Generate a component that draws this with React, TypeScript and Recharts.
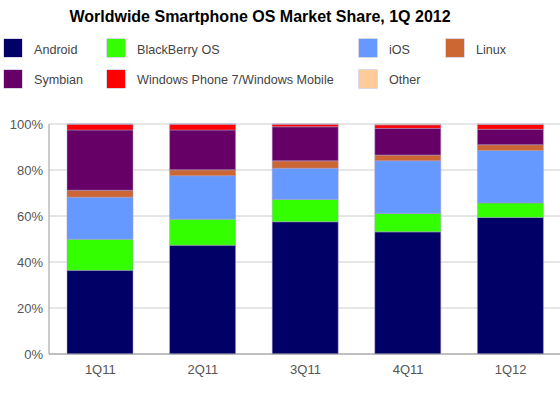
import React from "react";
import { BarChart, Bar, XAxis, YAxis, CartesianGrid } from "recharts";

// quarters on the x axis
const quarters = ["1Q11", "2Q11", "3Q11", "4Q11", "1Q12"];

// market share (%) per OS
const android = [36.4, 47.3, 57.5, 53.1, 59.4];
const blackberry = [13.5, 11.3, 9.7, 8.0, 6.3];
const ios = [18.3, 18.9, 13.6, 22.9, 22.8];
const linux = [3.0, 2.6, 3.2, 2.5, 2.5];
const symbian = [26.2, 17.3, 14.8, 11.6, 6.7];
const windows = [2.5, 2.5, 1.1, 1.5, 2.1];
const other = [0.1, 0.1, 0.1, 0.4, 0.2];

const yTicks = [0, 20, 40, 60, 80, 100];

const series = [
  { key: "android", name: "Android", color: "#000066", values: android },
  { key: "blackberry", name: "BlackBerry OS", color: "#33ff00", values: blackberry },
  { key: "ios", name: "iOS", color: "#6699ff", values: ios },
  { key: "linux", name: "Linux", color: "#cc6633", values: linux },
  { key: "symbian", name: "Symbian", color: "#660066", values: symbian },
  { key: "windows", name: "Windows Phone 7/Windows Mobile", color: "#ff0000", values: windows },
  { key: "other", name: "Other", color: "#ffcc99", values: other },
];

const data = quarters.map((q, i) => {
  const row: Record<string, string | number> = { quarter: q };
  series.forEach((s) => (row[s.key] = s.values[i]));
  return row;
});

// legend grid: row 1 / row 2, column x positions
const legendRows = [
  ["android", "blackberry", "ios", "linux"],
  ["symbian", "windows", "other"],
];
const legendCols = [4, 107, 359, 446];

const font = "'Liberation Sans', Arial, Helvetica, sans-serif";

const ChartLegend = () => (
  <div style={{ position: "absolute", left: 0, top: 0, width: 560, height: 100 }}>
    {legendRows.map((row, r) =>
      row.map((key, c) => {
        const s = series.find((x) => x.key === key)!;
        return (
          <div
            key={key}
            style={{
              position: "absolute",
              left: legendCols[c],
              top: 39 + r * 30.5,
              display: "flex",
              alignItems: "center",
              height: 18,
            }}
          >
            <div style={{ width: 18, height: 18, background: s.color, boxShadow: "0 0 0 0.5px #b8b0d0" }} />
            <span
              style={{
                marginLeft: 12,
                paddingTop: 3,
                fontSize: 12.6,
                color: "#444",
                fontFamily: font,
                whiteSpace: "nowrap",
              }}
            >
              {s.name}
            </span>
          </div>
        );
      })
    )}
  </div>
);

export default function App() {
  return (
    <div style={{ position: "fixed", left: 0, top: 0, width: 560, height: 398, overflow: "hidden", background: "#fff" }}>
      <BarChart
        width={562}
        height={398}
        data={data}
        margin={{ top: 124, right: 0, bottom: 14, left: 0 }}
        barCategoryGap="35%"
      >
        <CartesianGrid vertical={false} stroke="#cccccc" />
        <XAxis
          dataKey="quarter"
          stroke="#999"
          tickLine={false}
          tickSize={6}
          tickMargin={5}
          height={30}
          tick={{ fill: "#555", fontSize: 13, fontFamily: font }}
        />
        <YAxis
          domain={[0, 100]}
          ticks={yTicks}
          width={49}
          stroke="#999"
          tickLine={false}
          tickSize={4}
          tickMargin={2}
          tickFormatter={(v) => `${v}%`}
          tick={{ fill: "#555", fontSize: 13, fontFamily: font }}
        />
        {series.map((s) => (
          <Bar
            key={s.key}
            dataKey={s.key}
            name={s.name}
            stackId="os"
            fill={s.color}
            stroke="#a89cc8"
            strokeWidth={0.5}
            barSize={66}
            isAnimationActive={false}
          />
        ))}
      </BarChart>
      <div
        style={{
          position: "absolute",
          top: 8,
          left: 0,
          width: 520,
          textAlign: "center",
          fontFamily: font,
          fontWeight: "bold",
          fontSize: 16,
          color: "#000",
        }}
      >
        Worldwide Smartphone OS Market Share, 1Q 2012
      </div>
      <ChartLegend />
    </div>
  );
}
